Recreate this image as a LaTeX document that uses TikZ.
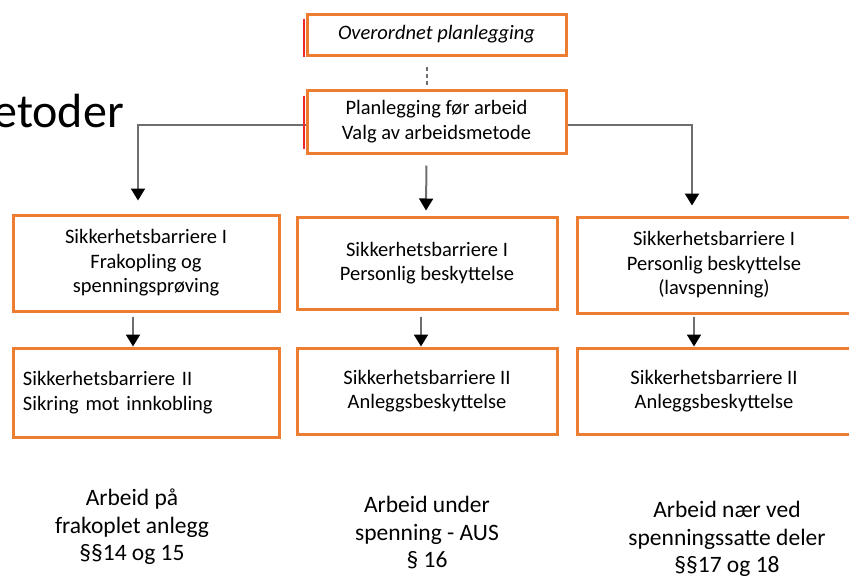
\documentclass[tikz,border=0pt]{standalone}
\usepackage{fontspec}
\setmainfont{Carlito}
\usetikzlibrary{arrows.meta}
\definecolor{boxorange}{RGB}{237,125,49}
\definecolor{linegray}{RGB}{110,110,110}
\definecolor{markred}{RGB}{240,40,40}

\begin{document}
\begin{tikzpicture}[x=1pt, y=-1pt,
  every node/.append style={font=\fontsize{20.5}{24.5}\selectfont, align=center, inner sep=0pt},
  stepbox/.style={draw=boxorange, line width=3pt, fill=white},
  conn/.style={draw=linegray, line width=2pt, -{Triangle[width=14pt, length=12pt, color=black]}},
  lawtext/.style={font=\fontsize{23.5}{27.5}\selectfont}]
  \useasboundingbox (0,0) rectangle (849,579);
  \node[anchor=base east, font=\fontsize{48}{56}\selectfont] (title) at (124,127) {etoder};
  \node[stepbox, minimum width=259pt, minimum height=41pt, font=\fontsize{20.5}{24.5}\selectfont\itshape] (over) at (436.5,34.5) {Overordnet planlegging};
  \node[stepbox, minimum width=259pt, minimum height=63pt] (plan) at (436.5,121.5) {Planlegging før arbeid\\Valg av arbeidsmetode};
  \node[stepbox, minimum width=266pt, minimum height=96pt] (b1a) at (146,263) {Sikkerhetsbarriere I\\Frakopling og\\spenningsprøving};
  \node[stepbox, minimum width=260pt, minimum height=92pt] (b2a) at (427,263) {Sikkerhetsbarriere I\\Personlig beskyttelse};
  \node[stepbox, minimum width=274pt, minimum height=96pt] (b3a) at (714,265) {Sikkerhetsbarriere I\\Personlig beskyttelse\\(lavspenning)};
  \node[stepbox, minimum height=89pt, text width=246pt, inner xsep=10pt, align=left] (b1b) at (146,392.5) {Sikkerhetsbarriere II\\Sikring mot innkobling};
  \node[stepbox, minimum width=260pt, minimum height=86pt] (b2b) at (427,391) {Sikkerhetsbarriere II\\Anleggsbeskyttelse};
  \node[stepbox, minimum width=274pt, minimum height=86pt] (b3b) at (714,391) {Sikkerhetsbarriere II\\Anleggsbeskyttelse};
  \node[lawtext] (law1) at (132,527) {Arbeid på\\frakoplet anlegg\\§§14 og 15};
  \node[lawtext] (law2) at (427,533) {Arbeid under\\spenning - AUS\\§ 16};
  \node[lawtext] (law3) at (727,539) {Arbeid nær ved\\spenningssatte deler\\§§17 og 18};
  \draw[draw=linegray, line width=2pt, dash pattern=on 4pt off 3pt, shorten <=10pt, shorten >=2pt] ([xshift=-10pt]over.south) -- ([xshift=-10pt]plan.north);
  \draw[conn, shorten >=13pt] ([yshift=-3pt]plan.west) -| ([xshift=-8pt]b1a.north);
  \draw[conn, shorten <=11pt, shorten >=5pt] ([xshift=-10pt]plan.south) -- ([xshift=-1pt]b2a.north);
  \draw[conn, shorten >=10pt] ([yshift=-3pt]plan.east) -| ([xshift=-22pt]b3a.north);
  \draw[conn, shorten <=4pt] ([xshift=-13pt]b1a.south) -- ([xshift=-13pt]b1b.north);
  \draw[conn, shorten <=6pt] ([xshift=-6pt]b2a.south) -- ([xshift=-6pt]b2b.north);
  \draw[conn, shorten <=2pt] ([xshift=-20pt]b3a.south) -- ([xshift=-20pt]b3b.north);
  \draw[markred, line width=2pt] ([xshift=-2pt, yshift=-6pt]over.north west) -- ([xshift=-2pt]over.south west);
  \draw[markred, line width=2pt] ([xshift=-2pt, yshift=-7pt]plan.north west) -- ([xshift=-2pt, yshift=6pt]plan.south west);
\end{tikzpicture}
\end{document}
